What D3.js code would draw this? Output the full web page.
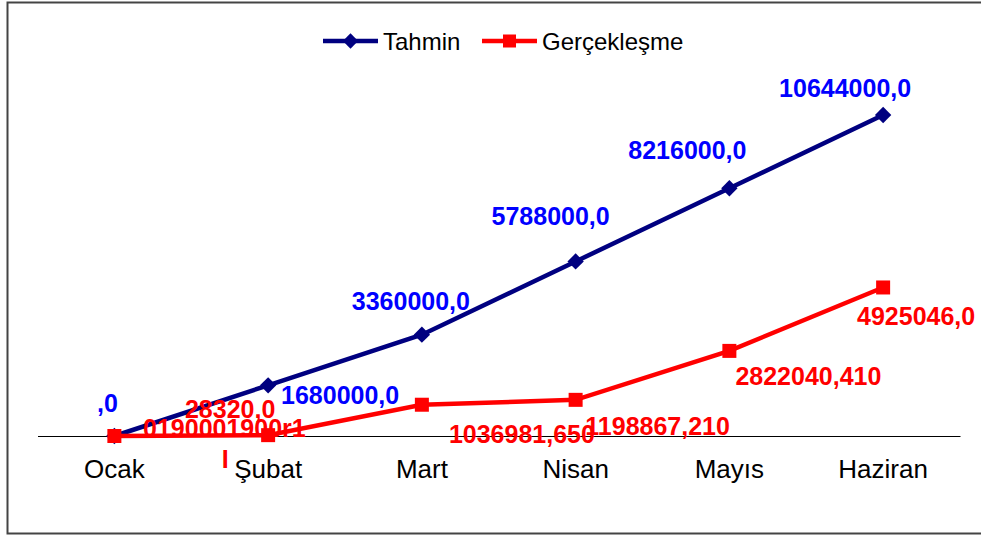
<!DOCTYPE html>
<html>

<head>
	<meta charset="UTF-8">
	<title>Tahmin / Gerçekleşme</title>
	<script src="https://cdn.jsdelivr.net/npm/d3@7"></script>
	<style>
		html,
		body {
			margin: 0px;
			padding: 0px;
			background: #fff;
		}

		svg {
			display: block;
			font-family: "Liberation Sans", Arial, Helvetica, sans-serif;
		}
	</style>
</head>

<body>
	<svg id="chart" width="981" height="537"></svg>

	<script>
		// data
		var months = ["Ocak", "Şubat", "Mart", "Nisan", "Mayıs", "Haziran"];
		var tahmin = [0, 1680000, 3360000, 5788000, 8216000, 10644000];
		var gercek = [0, 28320, 1036981.65, 1198867.21, 2822040.41, 4925046];
		var tahminLabels = [",0", "1680000,0", "3360000,0", "5788000,0", "8216000,0", "10644000,0"];
		var gercekLabels = ["0190001900r1", "28320,0", "1036981,650", "1198867,210", "2822040,410", "4925046,0"];

		// label placement (dx, dy of text baseline from its point)
		var tahminOffsets = [[-7, -24], [72, 19], [-11, -25], [-25, -36], [-42, -29], [-38, -18]];
		var gercekOffsets = [[110, 1], [-38, -17], [100, 38], [82, 35], [79, 34], [33, 38]];

		var svg = d3.select("#chart");

		// outer frame (right side runs off the picture)
		svg.append("path")
			.attr("d", "M990,2.5 H7.5 V533.5 H990")
			.attr("fill", "none")
			.attr("stroke", "#444")
			.attr("stroke-width", 2);

		var x = d3.scaleBand()
			.domain(months)
			.range([37.5, 960]);

		var y = d3.scaleLinear()
			.domain([0, 10644000])
			.range([436, 115]);

		var cx = function(d, i) { return x(months[i]) + x.bandwidth() / 2; };

		// category axis
		var axis = svg.append("g")
			.attr("transform", "translate(0," + y(0) + ")")
			.call(d3.axisBottom(x).tickSize(0).tickPadding(0));
		axis.select(".domain").attr("stroke", "#000").attr("stroke-width", 1.2);
		axis.selectAll("text")
			.attr("dy", null)
			.attr("y", 42)
			.attr("fill", "#000")
			.style("font-size", "26px")
			.style("font-family", "'Liberation Sans', Arial, sans-serif");

		var line = d3.line()
			.x(function(d, i) { return cx(d, i); })
			.y(function(d) { return y(d); });

		// Tahmin
		svg.append("path")
			.datum(tahmin)
			.attr("d", line)
			.attr("fill", "none")
			.attr("stroke", "#000080")
			.attr("stroke-width", 4.5);

		svg.selectAll(".dia")
			.data(tahmin)
			.enter().append("path")
			.attr("class", "dia")
			.attr("d", d3.symbol().type(d3.symbolDiamond2).size(170))
			.attr("transform", function(d, i) { return "translate(" + cx(d, i) + "," + y(d) + ")"; })
			.attr("fill", "#000080");

		// Gerçekleşme
		svg.append("path")
			.datum(gercek)
			.attr("d", line)
			.attr("fill", "none")
			.attr("stroke", "#ff0000")
			.attr("stroke-width", 4.5);

		svg.selectAll(".sq")
			.data(gercek)
			.enter().append("rect")
			.attr("class", "sq")
			.attr("x", function(d, i) { return cx(d, i) - 7; })
			.attr("y", function(d) { return y(d) - 7; })
			.attr("width", 14)
			.attr("height", 14)
			.attr("fill", "#ff0000");

		// data labels
		svg.selectAll(".lblT")
			.data(tahmin)
			.enter().append("text")
			.attr("class", "lblT")
			.attr("x", function(d, i) { return cx(d, i) + tahminOffsets[i][0]; })
			.attr("y", function(d, i) { return y(d) + tahminOffsets[i][1]; })
			.attr("text-anchor", "middle")
			.attr("fill", "#0000ff")
			.style("font-size", "25px")
			.style("font-weight", "bold")
			.text(function(d, i) { return tahminLabels[i]; });

		svg.selectAll(".lblG")
			.data(gercek)
			.enter().append("text")
			.attr("class", "lblG")
			.attr("x", function(d, i) { return cx(d, i) + gercekOffsets[i][0]; })
			.attr("y", function(d, i) { return y(d) + gercekOffsets[i][1]; })
			.attr("text-anchor", "middle")
			.attr("fill", "#ff0000")
			.style("font-size", "25px")
			.style("font-weight", "bold")
			.text(function(d, i) { return gercekLabels[i]; });

		// stray red mark under the axis, left of Şubat
		svg.append("text")
			.attr("x", x("Şubat") + x.bandwidth() / 2 - 43)
			.attr("y", y(0) + 32)
			.attr("text-anchor", "middle")
			.attr("fill", "#ff0000")
			.style("font-size", "25px")
			.style("font-weight", "bold")
			.text("I");

		// legend
		var legend = [
			{ name: "Tahmin", color: "#000080", shape: "diamond", x0: 323 },
			{ name: "Gerçekleşme", color: "#ff0000", shape: "square", x0: 482 }
		];
		var lg = svg.selectAll(".leg")
			.data(legend)
			.enter().append("g")
			.attr("class", "leg")
			.attr("transform", function(d) { return "translate(" + d.x0 + ",41)"; });
		lg.append("line")
			.attr("x1", 0)
			.attr("x2", 55)
			.attr("stroke", function(d) { return d.color; })
			.attr("stroke-width", 4.5);
		lg.each(function(d) {
			var g = d3.select(this);
			if (d.shape == "diamond") {
				g.append("path")
					.attr("d", d3.symbol().type(d3.symbolDiamond2).size(150))
					.attr("transform", "translate(27.5,0)")
					.attr("fill", d.color);
			} else {
				g.append("rect")
					.attr("x", 21).attr("y", -6.5)
					.attr("width", 13).attr("height", 13)
					.attr("fill", d.color);
			}
		});
		lg.append("text")
			.attr("x", 60)
			.attr("y", 8.5)
			.attr("fill", "#000")
			.style("font-size", "24px")
			.text(function(d) { return d.name; });
	</script>

</body>

</html>
